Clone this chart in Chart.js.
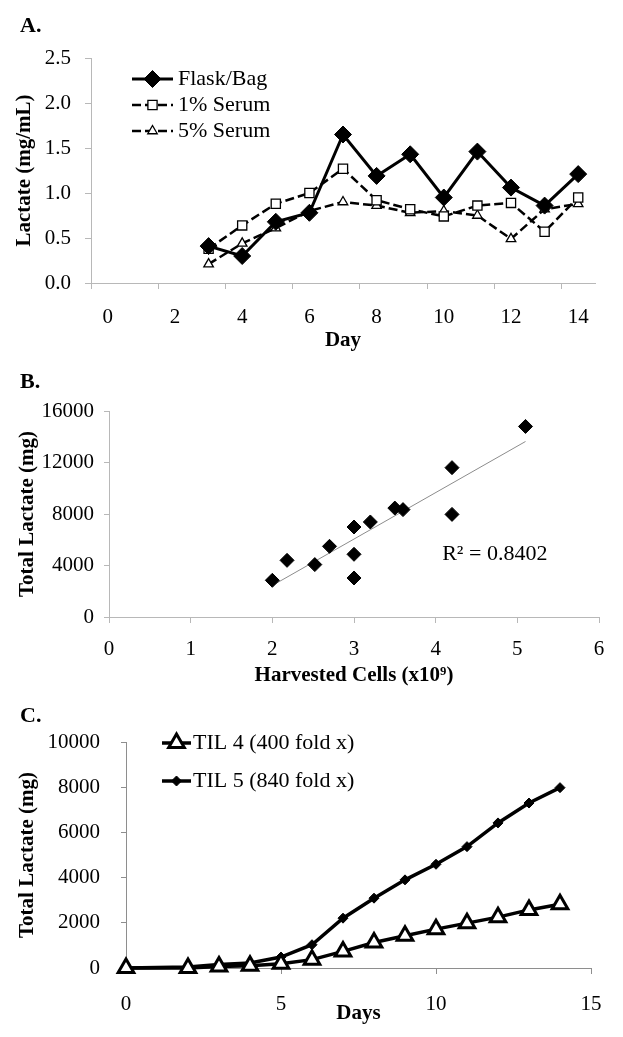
<!DOCTYPE html>
<html>
<head>
<meta charset="utf-8">
<script src="https://cdn.jsdelivr.net/npm/chart.js@4.4.0/dist/chart.umd.min.js"></script>
<style>
  body { margin: 0; background: #fff; width: 623px; height: 1037px; position: relative; overflow: hidden; font-family: "Liberation Serif", "Times New Roman", serif; }
  .panel { position: absolute; left: 0; width: 623px; }
  .tag { position: absolute; left: 20px; font-weight: bold; font-size: 22px; line-height: 22px; }
</style>
</head>
<body>
<div class="panel" style="top:0"><canvas id="chartA" width="623" height="355"></canvas></div>
<div class="panel" style="top:355px"><canvas id="chartB" width="623" height="335"></canvas></div>
<div class="panel" style="top:690px"><canvas id="chartC" width="623" height="347"></canvas></div>
<div class="tag" style="top:14px">A.</div>
<div class="tag" style="top:370px">B.</div>
<div class="tag" style="top:704px">C.</div>
<script>
// A. lactate concentration by day
const dayLabels = ['0', '1', '2', '3', '4', '5', '6', '7', '8', '9', '10', '11', '12', '13', '14'];
const flaskBag = [null, null, null, 0.41, 0.30, 0.68, 0.78, 1.65, 1.19, 1.43, 0.95, 1.46, 1.06, 0.86, 1.21];
const serum1 = [null, null, null, 0.38, 0.64, 0.88, 1.00, 1.27, 0.92, 0.82, 0.74, 0.86, 0.89, 0.57, 0.95];
const serum5 = [null, null, null, 0.21, 0.44, 0.61, 0.80, 0.90, 0.86, 0.78, 0.80, 0.75, 0.49, 0.82, 0.88];
const lactateTicks = [0, 0.5, 1.0, 1.5, 2.0, 2.5];

// B. total lactate vs harvested cells
const harvestedCells = [2.0, 2.18, 2.52, 2.7, 3.0, 3.0, 3.0, 3.2, 3.5, 3.6, 4.2, 4.2, 5.1];
const totalLactate = [2850, 4400, 4070, 5490, 6990, 4870, 3030, 7380, 8460, 8340, 11600, 7970, 14800];
const cellTicks = [0, 1, 2, 3, 4, 5, 6];
const totalTicksB = [0, 4000, 8000, 12000, 16000];
const rSquared = 'R² = 0.8402';

// C. cumulative lactate over the culture
const daysC = [0, 2, 3, 4, 5, 6, 7, 8, 9, 10, 11, 12, 13, 14];
const til4 = [0, 0, 70, 100, 190, 370, 735, 1130, 1425, 1720, 1985, 2250, 2570, 2820];
const til5 = [0, 40, 150, 220, 485, 1030, 2205, 3090, 3900, 4590, 5370, 6420, 7300, 7980];
const daysTicks = [0, 5, 10, 15];
const totalTicksC = [0, 2000, 4000, 6000, 8000, 10000];

const SERIF = '"Liberation Serif", "Times New Roman", serif';

function drawMarker(ctx, style, r, x, y) {
  ctx.beginPath();
  if (style === 'rectRot') {
    ctx.moveTo(x - r, y); ctx.lineTo(x, y - r); ctx.lineTo(x + r, y); ctx.lineTo(x, y + r);
  } else if (style === 'rect') {
    const s = r * Math.SQRT1_2;
    ctx.rect(x - s, y - s, 2 * s, 2 * s);
  } else if (style === 'triangle') {
    for (let k = 0; k < 3; k++) {
      const a = k * 2 * Math.PI / 3;
      const px = x + Math.sin(a) * r, py = y - Math.cos(a) * r;
      if (k) ctx.lineTo(px, py); else ctx.moveTo(px, py);
    }
  }
  ctx.closePath();
  ctx.fill();
  ctx.stroke();
}

// legend drawn inside the plot, like the original
const boxLegend = {
  id: 'boxLegend',
  afterDraw(chart, args, opts) {
    if (!opts || opts.x === undefined) return;
    const ctx = chart.ctx;
    ctx.save();
    let row = 0;
    chart.data.datasets.forEach(ds => {
      if (!ds.label) return;
      const y = opts.y + row * opts.row;
      row++;
      ctx.strokeStyle = ds.borderColor;
      ctx.lineWidth = ds.borderWidth;
      ctx.setLineDash(ds.borderDash || []);
      ctx.beginPath();
      ctx.moveTo(opts.x, y);
      ctx.lineTo(opts.x + opts.len, y);
      ctx.stroke();
      ctx.setLineDash([]);
      ctx.fillStyle = ds.pointBackgroundColor;
      ctx.strokeStyle = ds.pointBorderColor;
      ctx.lineWidth = ds.pointBorderWidth;
      drawMarker(ctx, ds.pointStyle, ds.pointRadius, opts.x + opts.len / 2, y);
      ctx.fillStyle = '#000';
      ctx.font = opts.size + 'px ' + SERIF;
      ctx.textBaseline = 'middle';
      ctx.fillText(ds.label, opts.x + opts.len + opts.gap, y);
    });
    ctx.restore();
  }
};

const noteText = {
  id: 'noteText',
  afterDraw(chart, args, opts) {
    if (!opts || !opts.text) return;
    const ctx = chart.ctx;
    ctx.save();
    ctx.fillStyle = '#000';
    ctx.font = opts.size + 'px ' + SERIF;
    ctx.textBaseline = 'middle';
    ctx.fillText(opts.text, chart.scales.x.getPixelForValue(opts.x), chart.scales.y.getPixelForValue(opts.y));
    ctx.restore();
  }
};

function valueAxis(o) {
  return {
    min: o.min, max: o.max,
    afterBuildTicks: s => { s.ticks = o.ticks.map(v => ({ value: v })); },
    afterFit: s => { s.width = o.width; },
    grid: { drawOnChartArea: false, tickLength: o.tickLen, color: o.axis },
    border: { color: o.axis, width: 1 },
    ticks: { color: '#000', font: { family: SERIF, size: 21 }, padding: o.pad, callback: o.fmt },
    title: { display: true, text: o.title, color: '#000', font: { family: SERIF, size: 21, weight: 'bold' }, padding: { top: o.titlePad, bottom: 0 } }
  };
}

function baseAxisTitle(text, padBottom) {
  return { display: true, text: text, color: '#000', font: { family: SERIF, size: 21, weight: 'bold' }, padding: { top: 0, bottom: padBottom } };
}

Chart.defaults.animation = false;

// ---------- A ----------
const axisA = '#b8b8b8';
new Chart(document.getElementById('chartA'), {
  type: 'line',
  data: {
    labels: dayLabels,
    datasets: [
      { label: 'Flask/Bag', data: flaskBag, borderColor: '#000', borderWidth: 3, pointStyle: 'rectRot', pointRadius: 8.5,
        pointBackgroundColor: '#000', pointBorderColor: '#000', pointBorderWidth: 1, tension: 0, clip: false },
      { label: '1% Serum', data: serum1, borderColor: '#000', borderWidth: 2.5, borderDash: [9, 4], pointStyle: 'rect', pointRadius: 6.5,
        pointBackgroundColor: '#fff', pointBorderColor: '#000', pointBorderWidth: 1.3, tension: 0, clip: false },
      { label: '5% Serum', data: serum5, borderColor: '#000', borderWidth: 2.5, borderDash: [9, 4], pointStyle: 'triangle', pointRadius: 5.5,
        pointBackgroundColor: '#fff', pointBorderColor: '#000', pointBorderWidth: 1.3, tension: 0, clip: false }
    ]
  },
  options: {
    responsive: false,
    layout: { padding: { left: 0, right: 28, top: 58, bottom: 0 } },
    plugins: { legend: { display: false }, tooltip: { enabled: false },
      boxLegend: { x: 132, y: 79, row: 26, len: 41, gap: 5, size: 22 } },
    scales: {
      x: {
        type: 'category', offset: true,
        afterFit: s => { s.height = 72; },
        grid: { offset: true, drawOnChartArea: false, tickLength: 6,
          color: c => (c.index % 2 === 0 ? axisA : 'rgba(0,0,0,0)') },
        border: { color: axisA, width: 1 },
        ticks: { autoSkip: false, maxRotation: 0, color: '#000', font: { family: SERIF, size: 21 }, padding: 16,
          callback: (v, i) => (i % 2 === 0 ? dayLabels[i] : '') },
        title: baseAxisTitle('Day', 2)
      },
      y: valueAxis({ min: 0, max: 2.5, ticks: lactateTicks, width: 91, tickLen: 6, axis: axisA, pad: 14,
        fmt: v => v.toFixed(1), title: 'Lactate (mg/mL)', titlePad: 12 })
    }
  },
  plugins: [boxLegend]
});

// ---------- B ----------
const axisB = '#b8b8b8';
const n = harvestedCells.length;
const mx = harvestedCells.reduce((a, b) => a + b, 0) / n;
const my = totalLactate.reduce((a, b) => a + b, 0) / n;
let sxy = 0, sxx = 0;
harvestedCells.forEach((x, i) => { sxy += (x - mx) * (totalLactate[i] - my); sxx += (x - mx) * (x - mx); });
const slope = sxy / sxx, intercept = my - slope * mx;
const xLo = Math.min(...harvestedCells), xHi = Math.max(...harvestedCells);

new Chart(document.getElementById('chartB'), {
  type: 'scatter',
  data: {
    datasets: [
      { data: harvestedCells.map((x, i) => ({ x: x, y: totalLactate[i] })), pointStyle: 'rectRot', pointRadius: 7,
        pointBackgroundColor: '#000', pointBorderColor: '#000', pointBorderWidth: 1, showLine: false, clip: false },
      { type: 'line', data: [{ x: xLo, y: slope * xLo + intercept }, { x: xHi, y: slope * xHi + intercept }],
        borderColor: '#8c8c8c', borderWidth: 1, pointRadius: 0, tension: 0 }
    ]
  },
  options: {
    responsive: false,
    layout: { padding: { left: 0, right: 24, top: 56, bottom: 0 } },
    plugins: { legend: { display: false }, tooltip: { enabled: false },
      noteText: { text: rSquared, x: 4.08, y: 4900, size: 22 } },
    scales: {
      x: {
        type: 'linear', min: 0, max: 6,
        afterBuildTicks: s => { s.ticks = cellTicks.map(v => ({ value: v })); },
        afterFit: s => { s.height = 73; },
        grid: { drawOnChartArea: false, tickLength: 6, color: axisB },
        border: { color: axisB, width: 1 },
        ticks: { maxRotation: 0, color: '#000', font: { family: SERIF, size: 21 }, padding: 14 },
        title: baseAxisTitle('Harvested Cells (x10⁹)', 2)
      },
      y: valueAxis({ min: 0, max: 16000, ticks: totalTicksB, width: 109, tickLen: 5, axis: axisB, pad: 10,
        fmt: v => String(v), title: 'Total Lactate (mg)', titlePad: 15 })
    }
  },
  plugins: [noteText]
});

// ---------- C ----------
const axisC = '#8e8e8e';
new Chart(document.getElementById('chartC'), {
  type: 'line',
  data: {
    datasets: [
      { label: 'TIL 4 (400 fold x)', data: daysC.map((d, i) => ({ x: d, y: til4[i] })), borderColor: '#000', borderWidth: 3.5,
        pointStyle: 'triangle', pointRadius: 9, pointBackgroundColor: '#fff', pointBorderColor: '#000', pointBorderWidth: 3, tension: 0, clip: false },
      { label: 'TIL 5 (840 fold x)', data: daysC.map((d, i) => ({ x: d, y: til5[i] })), borderColor: '#000', borderWidth: 3.5,
        pointStyle: 'rectRot', pointRadius: 5, pointBackgroundColor: '#000', pointBorderColor: '#000', pointBorderWidth: 1, tension: 0, clip: false }
    ]
  },
  options: {
    responsive: false,
    layout: { padding: { left: 0, right: 32, top: 52, bottom: 0 } },
    plugins: { legend: { display: false }, tooltip: { enabled: false },
      boxLegend: { x: 162, y: 53, row: 38, len: 29, gap: 2, size: 22 } },
    scales: {
      x: {
        type: 'linear', min: 0, max: 15,
        afterBuildTicks: s => { s.ticks = daysTicks.map(v => ({ value: v })); },
        afterFit: s => { s.height = 69; },
        grid: { drawOnChartArea: false, tickLength: 6, color: axisC },
        border: { color: axisC, width: 1 },
        ticks: { maxRotation: 0, color: '#000', font: { family: SERIF, size: 21 }, padding: 18 },
        title: baseAxisTitle('Days', 11)
      },
      y: valueAxis({ min: 0, max: 10000, ticks: totalTicksC, width: 126, tickLen: 5, axis: axisC, pad: 21,
        fmt: v => String(v), title: 'Total Lactate (mg)', titlePad: 15 })
    }
  },
  plugins: [boxLegend]
});
</script>
</body>
</html>
